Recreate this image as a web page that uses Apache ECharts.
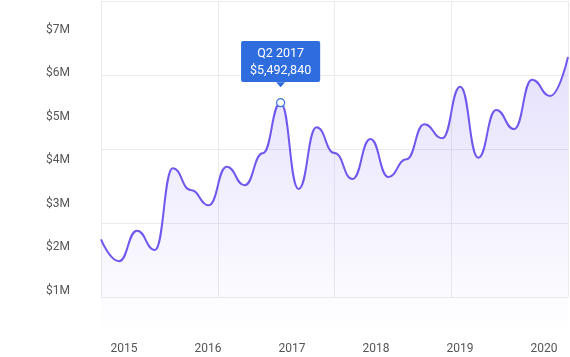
<!DOCTYPE html>
<html>
<head>
<meta charset="utf-8">
<script src="https://cdn.jsdelivr.net/npm/echarts@6/dist/echarts.min.js"></script>
<style>
html,body{margin:0;padding:0;background:#fff;}
#c{width:570px;height:357px;}
</style>
</head>
<body>
<div id="c"></div>
<script>
const quarters = ['Q4 2014','Q1 2015','Q2 2015','Q3 2015','Q4 2015','Q1 2016','Q2 2016','Q3 2016','Q4 2016','Q1 2017','Q2 2017','Q3 2017','Q4 2017','Q1 2018','Q2 2018','Q3 2018','Q4 2018','Q1 2019','Q2 2019','Q3 2019','Q4 2019','Q1 2020','Q2 2020','Q3 2020','Q4 2020','Q1 2021','Q2 2021'];
const revenue = [2248130,1726450,2453220,1994310,3934580,3419270,3056140,3972360,3530490,4290170,5492840,3443610,4907250,4297380,3680520,4630140,3727660,4148390,4979210,4646580,5871430,4186270,5318660,4867140,6038520,5651390,6577210];
const yearLabels = ['2015','2016','2017','2018','2019','2020'];
const yTickLabels = ['$1M','$2M','$3M','$4M','$5M','$6M','$7M'];
const highlightIndex = 10;

const chart = echarts.init(document.getElementById('c'), null, {renderer:'canvas'});
const hidden = {axisLabel:{show:false},axisLine:{show:false},axisTick:{show:false},splitLine:{show:false}};
const gridLine = {show:true,lineStyle:{color:'#ebebee',width:1}};
const font = 'Roboto, "Noto Sans", sans-serif';

chart.setOption({
  animation:false,
  backgroundColor:'#ffffff',
  grid:[
    {left:101,right:2,top:0,bottom:23},
    {left:101,right:2,top:1,bottom:60},
    {left:124,width:420,top:0,bottom:22}
  ],
  xAxis:[
    Object.assign({type:'category',gridIndex:0,data:quarters,boundaryGap:false},hidden),
    Object.assign({},hidden,{type:'value',gridIndex:1,min:0,max:4,interval:1,splitLine:gridLine}),
    {type:'category',gridIndex:2,data:yearLabels,boundaryGap:false,
     axisLine:{show:false},axisTick:{show:false},splitLine:{show:false},
     axisLabel:{color:'#555',fontSize:12,fontFamily:font,margin:8,interval:0}}
  ],
  yAxis:[
    {type:'value',gridIndex:0,min:0,max:7690000,interval:1000000,
     axisLine:{show:false},axisTick:{show:false},splitLine:{show:false},
     axisLabel:{color:'#555',fontSize:12,fontFamily:font,margin:31,showMaxLabel:false,showMinLabel:false,
       formatter:function(v){const i=Math.round(v/1000000);return (i>=1&&i<=yTickLabels.length&&Math.abs(v-i*1e6)<1)?yTickLabels[i-1]:'';}}},
    Object.assign({type:'value',gridIndex:0,min:0,max:7930000},hidden),
    Object.assign({},hidden,{type:'value',gridIndex:1,min:0,max:4,interval:1,splitLine:gridLine}),
    Object.assign({type:'value',gridIndex:2},hidden)
  ],
  series:[{
    type:'line',xAxisIndex:0,yAxisIndex:1,data:revenue,smooth:0.5,smoothMonotone:'x',showSymbol:false,
    lineStyle:{color:'#7058ef',width:2},
    areaStyle:{color:new echarts.graphic.LinearGradient(0,0,0,1,[
      {offset:0,color:'rgba(118,94,242,0.27)'},
      {offset:1,color:'rgba(118,94,242,0.0)'}
    ])},
    markPoint:{
      silent:true,
      data:[
        {coord:[quarters[highlightIndex],revenue[highlightIndex]],symbol:'triangle',symbolRotate:180,symbolSize:[9,5],symbolOffset:[0,-18],
         itemStyle:{color:'#2f6ddf'},label:{show:false}},
        {coord:[quarters[highlightIndex],revenue[highlightIndex]],name:quarters[highlightIndex],value:revenue[highlightIndex],
         symbol:'circle',symbolSize:8,itemStyle:{color:'#ffffff',borderColor:'#3a74e2',borderWidth:1.2},
         label:{show:true,position:'top',distance:16,backgroundColor:'#2f6ddf',borderRadius:2,
           padding:[4,9,3,9],color:'#ffffff',fontSize:12.5,fontFamily:font,lineHeight:17,align:'center',
           formatter:function(p){return p.name+'\n$'+Number(p.value).toLocaleString('en-US');}}}
      ]
    }
  }]
});
</script>
</body>
</html>
